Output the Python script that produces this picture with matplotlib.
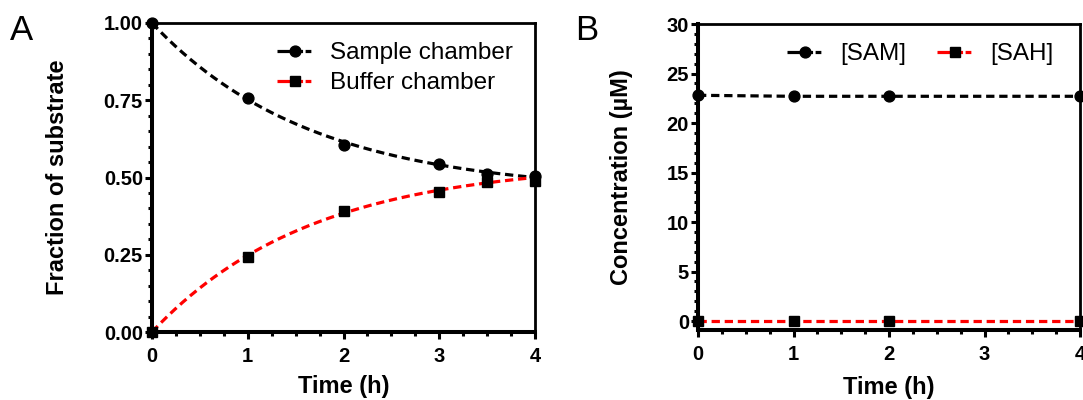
import numpy as np
import matplotlib
matplotlib.use("Agg")
import matplotlib.pyplot as plt
from matplotlib.lines import Line2D
from matplotlib.ticker import MultipleLocator, FixedLocator, FixedFormatter

plt.rcParams["font.family"] = ["Liberation Sans", "DejaVu Sans"]

# ---- Panel A: fraction of substrate in each chamber of the dialysis cell
time_a = [0, 1, 2, 3, 3.5, 4]
sample_frac = [1.00, 0.756, 0.605, 0.544, 0.510, 0.506]
buffer_frac = [0.00, 0.242, 0.393, 0.453, 0.486, 0.490]
# one-phase equilibration fit: transferred fraction = amp * (1 - exp(-rate * t))
fit_amp = 0.55
fit_rate = 0.60
yticks_a = [0.00, 0.25, 0.50, 0.75, 1.00]
ytick_labels_a = ["0.00", "0.25", "0.50", "0.75", "1.00"]

# ---- Panel B: SAM / SAH concentration over time
time_b = [0, 1, 2, 4]
sam_conc = [22.8, 22.7, 22.7, 22.7]
sah_conc = [0.0, 0.0, 0.0, 0.0]
yticks_b = [0, 5, 10, 15, 20, 25, 30]

W, H = 1083, 400
fig = plt.figure(figsize=(W / 100, H / 100), dpi=100)

BLACK = "#000000"
RED = "#ff0000"
LW = 2.3
DASH = (2.6, 1.5)
MS = 7.8
TICK_FS = 14.5
LABEL_FS = 17
LEG_FS = 17.5

# legend handle: solid lead-in, marker, then short dash and dot
HANDLE_DASH = (8.0, 0.8, 1.8, 1.0, 1.0, 6.0)


def px_axes(left, top, right, bottom):
    return fig.add_axes([left / W, 1 - bottom / H, (right - left) / W, (bottom - top) / H])


def style_axes(ax):
    for side in ("left", "bottom"):
        ax.spines[side].set_linewidth(2.9)
    for side in ("top", "right"):
        ax.spines[side].set_linewidth(2.0)
    ax.tick_params(which="major", direction="out", length=5, width=2.2,
                   labelsize=TICK_FS, top=False, right=False)
    ax.tick_params(which="minor", direction="out", length=3, width=2.2,
                   top=False, right=False)
    ax.tick_params(axis="y", which="major", pad=1.5)
    ax.tick_params(axis="x", which="major", pad=5.5)
    for lab in ax.get_xticklabels() + ax.get_yticklabels():
        lab.set_fontweight("bold")


def fit_curve(t):
    return fit_amp * (1 - np.exp(-fit_rate * t))


def legend_handle(color, marker):
    return Line2D([], [], color=color, lw=LW, dashes=HANDLE_DASH,
                  marker=marker, markersize=MS, markerfacecolor=BLACK,
                  markeredgecolor=BLACK)


# ================= Panel A =================
axA = px_axes(152, 23, 535, 332)
tt = np.linspace(0, 4, 300)
axA.plot(tt, 1 - fit_curve(tt), color=BLACK, lw=LW, dashes=DASH, zorder=2)
axA.plot(tt, fit_curve(tt), color=RED, lw=LW, dashes=DASH, zorder=2)
axA.plot(time_a, sample_frac, ls="none", marker="o", ms=MS, color=BLACK,
         clip_on=False, zorder=4)
axA.plot(time_a, buffer_frac, ls="none", marker="s", ms=MS, color=BLACK,
         clip_on=False, zorder=4)
axA.set_xlim(0, 4)
axA.set_ylim(0, 1)
axA.set_xticks([0, 1, 2, 3, 4])
axA.xaxis.set_minor_locator(MultipleLocator(0.25))
axA.yaxis.set_major_locator(FixedLocator(yticks_a))
axA.yaxis.set_major_formatter(FixedFormatter(ytick_labels_a))
axA.yaxis.set_minor_locator(MultipleLocator(0.05))
style_axes(axA)
axA.set_xlabel("Time (h)", fontsize=LABEL_FS, fontweight="bold")
axA.set_ylabel("Fraction of substrate", fontsize=LABEL_FS, fontweight="bold")
axA.yaxis.set_label_coords(-0.217, 0.5)
axA.xaxis.set_label_coords(0.5, -0.140)

legA = fig.legend([legend_handle(BLACK, "o"), legend_handle(RED, "s")],
                  ["Sample chamber", "Buffer chamber"],
                  loc="upper left", bbox_to_anchor=(277 / W, 1 - 42 / H),
                  frameon=False, fontsize=LEG_FS, borderpad=0, borderaxespad=0,
                  handlelength=1.5, handletextpad=0.7, labelspacing=0.33)

# ================= Panel B =================
axB = px_axes(698, 24, 1080, 330)
axB.plot(time_b, sam_conc, color=BLACK, lw=LW, dashes=DASH, marker="o", ms=MS,
         markerfacecolor=BLACK, markeredgecolor=BLACK, clip_on=False, zorder=3)
axB.plot(time_b, sah_conc, color=RED, lw=LW, dashes=DASH, marker="s", ms=MS,
         markerfacecolor=BLACK, markeredgecolor=BLACK, clip_on=False, zorder=3)
axB.set_xlim(0, 4)
axB.set_ylim(-0.9, 30)
axB.set_xticks([0, 1, 2, 3, 4])
axB.xaxis.set_minor_locator(MultipleLocator(0.25))
axB.set_yticks(yticks_b)
axB.yaxis.set_minor_locator(MultipleLocator(1))
style_axes(axB)
axB.set_xlabel("Time (h)", fontsize=LABEL_FS, fontweight="bold")
axB.set_ylabel("Concentration (\u00b5M)", fontsize=LABEL_FS, fontweight="bold")
axB.yaxis.set_label_coords(-0.170, 0.5)
axB.xaxis.set_label_coords(0.5, -0.150)

legB = fig.legend([legend_handle(BLACK, "o"), legend_handle(RED, "s")],
                  ["[SAM]", "[SAH]"], ncol=2,
                  loc="upper left", bbox_to_anchor=(787 / W, 1 - 43 / H),
                  frameon=False, fontsize=LEG_FS, borderpad=0, borderaxespad=0,
                  handlelength=1.5, handletextpad=0.7, columnspacing=1.25)

# panel letters
fig.text(10 / W, 1 - 40 / H, "A", fontsize=25, va="baseline", ha="left")
fig.text(575 / W, 1 - 40 / H, "B", fontsize=25, va="baseline", ha="left")

fig.savefig("out.png", dpi=100)
